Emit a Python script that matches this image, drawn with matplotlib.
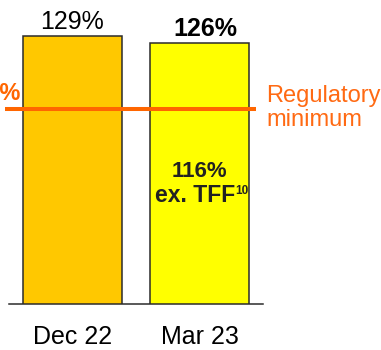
import matplotlib.pyplot as plt

plt.rcParams['font.family'] = ['Liberation Sans', 'DejaVu Sans']

# Liquidity coverage ratio by period
periods = ['Dec 22', 'Mar 23']
ratios = [129, 126]
ratio_labels = ['129%', '126%']
label_bold = [False, True]
bar_colors = ['#FFC800', '#FFFF00']
ex_tff = 116          # Mar 23 ratio excluding TFF
reg_minimum = 100     # regulatory minimum

fig = plt.figure(figsize=(3.81, 3.50), dpi=100)
ax = fig.add_axes([9 / 381, 46 / 350, 254 / 381, 304 / 350])
ax.set_xlim(-0.5, 1.5)
ax.set_ylim(22.6, 143.2)

x = list(range(len(periods)))
ax.bar(x, ratios, width=0.78, color=bar_colors, edgecolor='#2b2b2b', linewidth=1.1, zorder=2)

# Value labels above the bars
for i, (v, lab, b) in enumerate(zip(ratios, ratio_labels, label_bold)):
    ax.annotate(lab, xy=(x[i] + (0.05 if b else 0), v), xytext=(0, 5), textcoords='offset points',
                ha='center', va='baseline', fontsize=18,
                fontweight='bold' if b else 'normal', color='black')

# Inner label for the ex. TFF figure
ax.text(1, 73, f'{ex_tff}%', ha='center', va='baseline', fontsize=16,
        fontweight='bold', color='#222222', zorder=3)
t = ax.text(0.965, 63.1, 'ex. TFF', ha='center', va='baseline', fontsize=16.5,
            fontweight='bold', color='#222222', zorder=3)
ax.annotate('10', xy=(1.0, 1.0), xycoords=t, xytext=(0, -1), textcoords='offset points',
            ha='left', va='top', fontsize=8.5, fontweight='bold', color='#222222')

# Regulatory minimum line and labels
ax.plot([-0.531, 1.445], [reg_minimum, reg_minimum], color='#FF6600', linewidth=2.9,
        solid_capstyle='butt', clip_on=False, zorder=4)
ax.text(-0.406, 103.6, f'{reg_minimum}%', ha='right', va='baseline', fontsize=17,
        fontweight='bold', color='#FF6600', clip_on=False)
ax.text(1.524, 109.5, 'Regulatory\nminimum', ha='left', va='top', fontsize=17,
        color='#FF6A13', linespacing=1.15, clip_on=False)

ax.set_xticks(x)
ax.set_xticklabels(periods, fontsize=18)
ax.tick_params(axis='x', length=0, pad=15)
ax.set_yticks([])
for s in ['top', 'right', 'left']:
    ax.spines[s].set_visible(False)
ax.spines['bottom'].set_color('#2b2b2b')
ax.spines['bottom'].set_linewidth(1.1)
ax.spines['bottom'].set_zorder(3)

fig.savefig('out.png', dpi=100)
